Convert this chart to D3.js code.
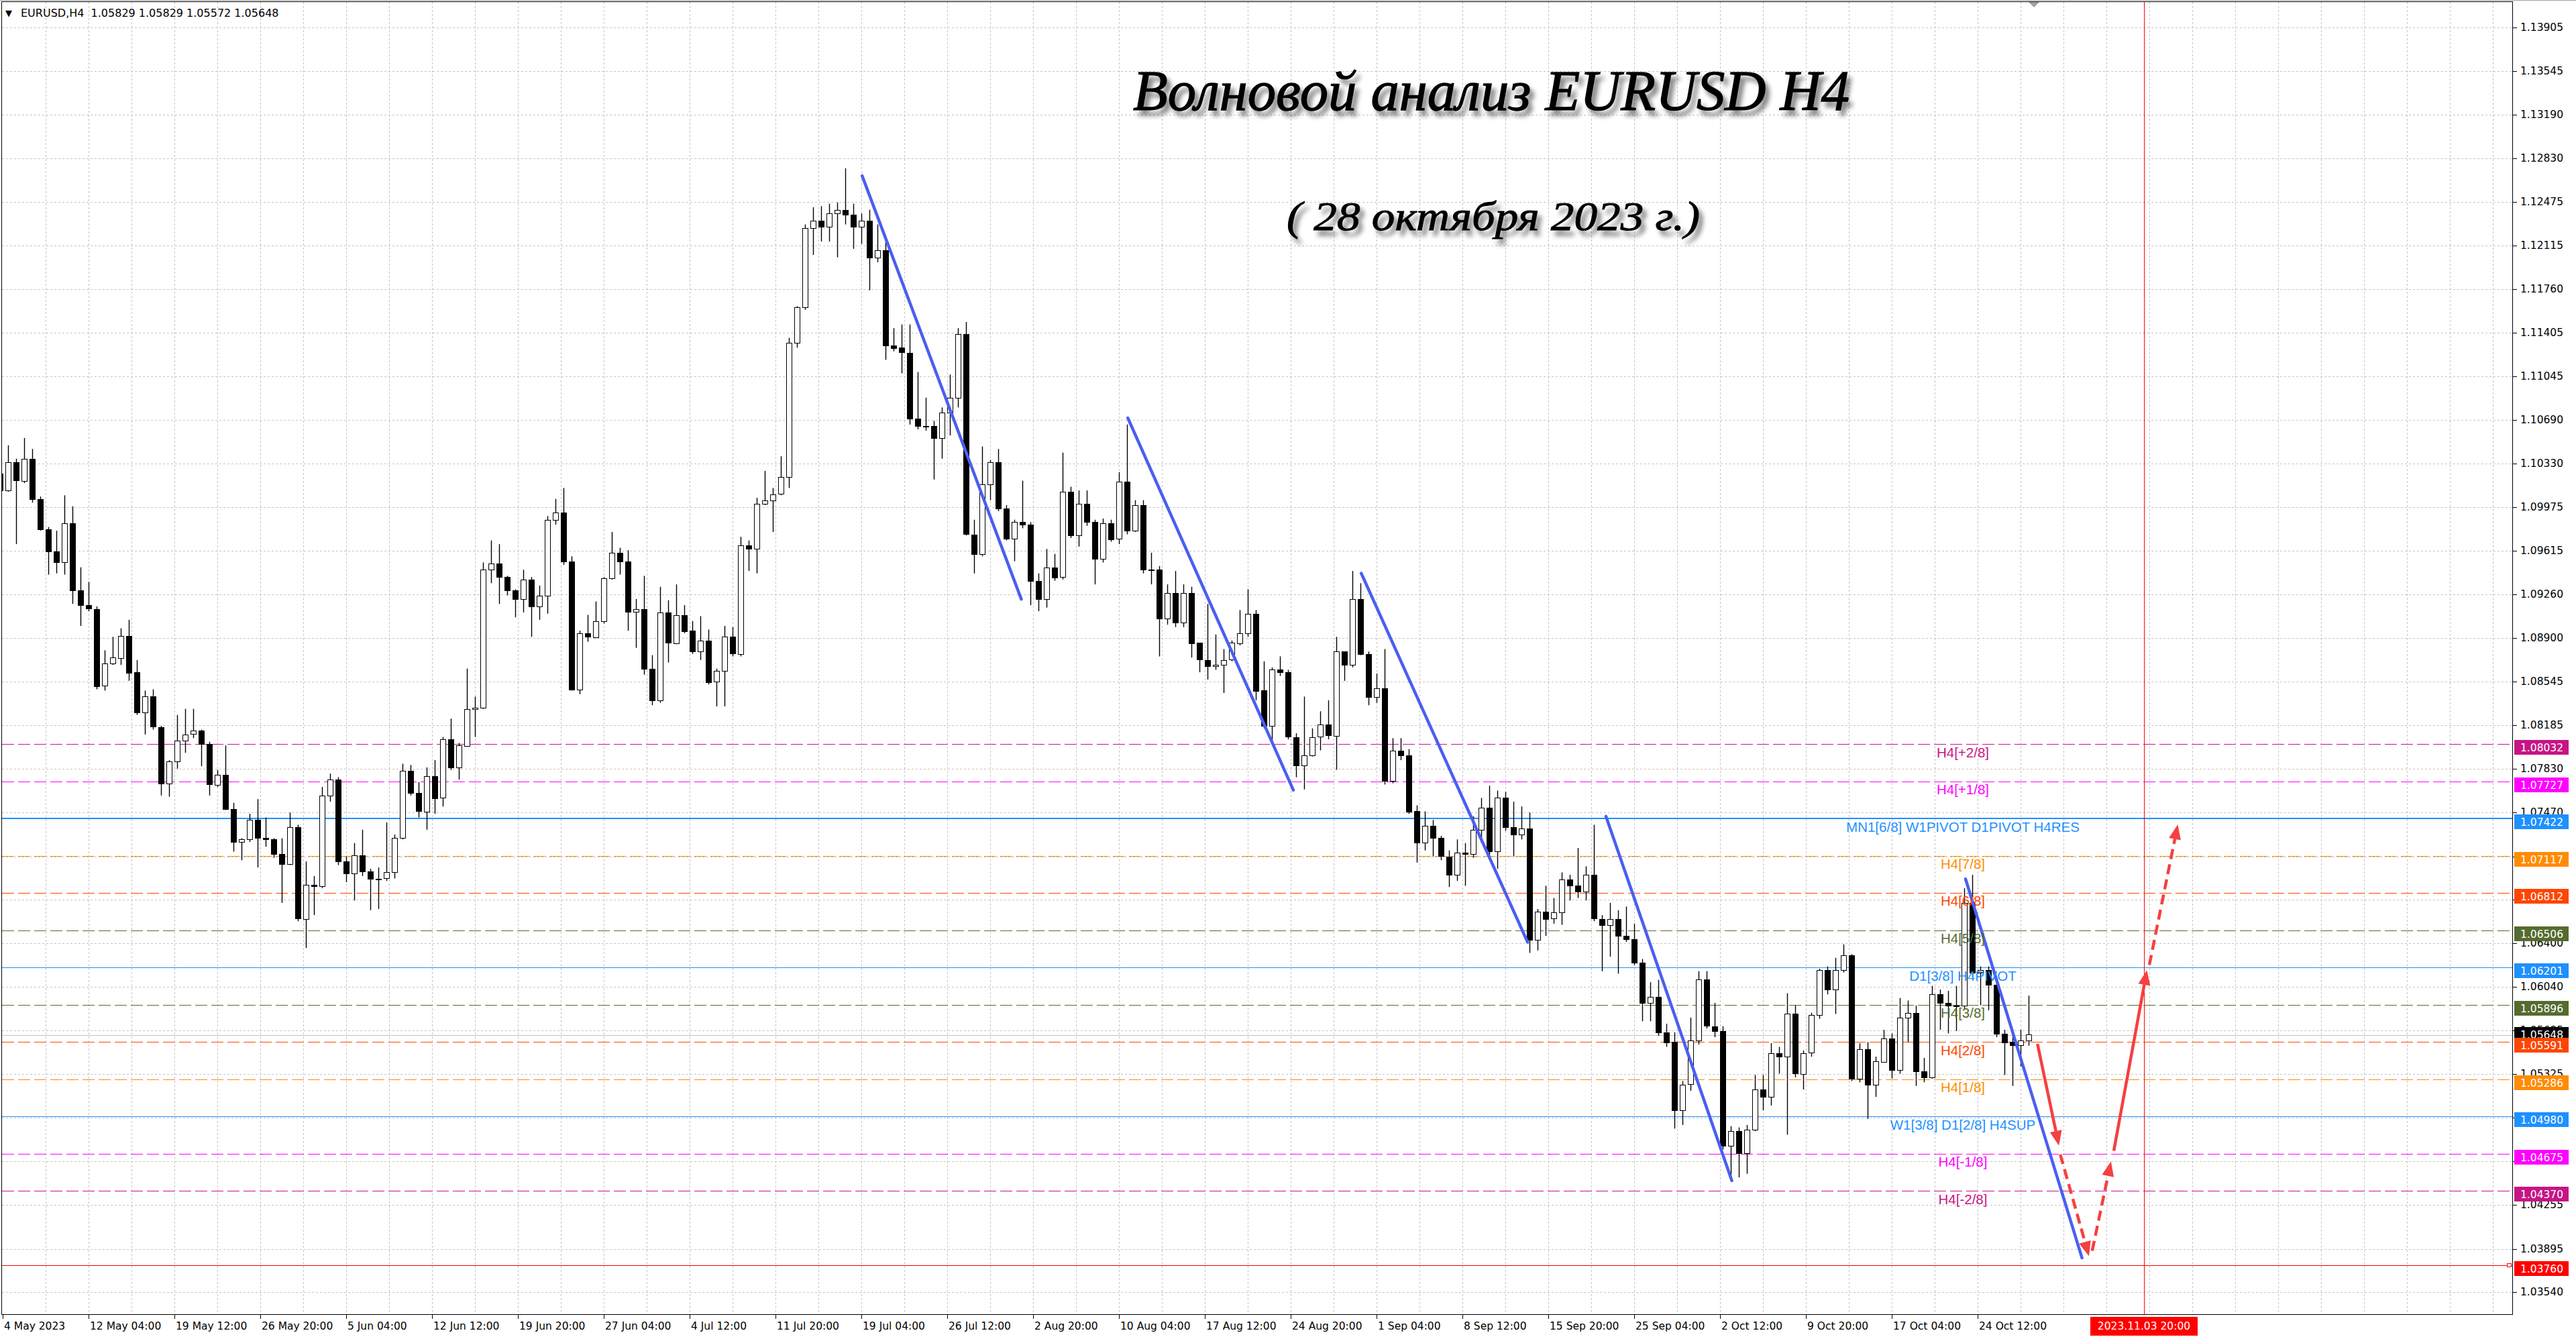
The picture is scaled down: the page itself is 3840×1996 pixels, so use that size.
<!DOCTYPE html>
<html><head><meta charset="utf-8">
<script src="https://d3js.org/d3.v7.min.js"></script>
<style>html,body{margin:0;padding:0;background:#fff;}svg{display:block;}</style>
</head><body>
<svg id="chart" width="3840" height="1996"></svg>
<script>
// ===== DATA (EURUSD, 12-hour candles, 4 May 2023 20:00 -> 27 Oct 2023 20:00) =====
const candleOpen = [
1.1025,1.1011,1.1034,1.1019,1.1037,1.1004,1.0979,1.0961,1.0952,1.0984,
1.0929,1.0917,1.0914,1.0851,1.0869,1.0874,1.0892,1.0862,1.0829,1.0842,
1.0817,1.0771,1.0789,1.0806,1.0811,1.0814,1.0803,1.0770,1.0778,1.0750,
1.0723,1.0725,1.0741,1.0726,1.0725,1.0713,1.0705,1.0735,1.0660,1.0688,
1.0687,1.0761,1.0774,1.0707,1.0697,1.0712,1.0699,1.0693,1.0693,1.0698,
1.0726,1.0781,1.0763,1.0748,1.0777,1.0759,1.0807,1.0784,1.0802,1.0832,
1.0833,1.0946,1.0951,1.0940,1.0929,1.0922,1.0938,1.0916,1.0925,1.0987,
1.0993,1.0953,1.0848,1.0894,1.0891,1.0904,1.0939,1.0960,1.0953,1.0912,
1.0914,1.0865,1.0839,1.0911,1.0886,1.0909,1.0896,1.0879,1.0888,1.0854,
1.0863,1.0891,1.0877,1.0966,1.0963,1.1000,1.1003,1.1008,1.1022,1.1132,
1.1161,1.1226,1.1232,1.1227,1.1238,1.1241,1.1237,1.1227,1.1232,1.1202,
1.1208,1.1130,1.1128,1.1124,1.1070,1.1064,1.1064,1.1054,1.1075,1.1087,
1.1139,1.0975,1.0959,1.1016,1.1034,1.0996,1.0971,1.0985,1.0983,1.0937,
1.0922,1.0948,1.0940,1.1010,1.0974,1.1000,1.0985,1.0955,1.0984,1.0971,
1.1018,1.0978,1.0999,1.0946,1.0946,1.0906,1.0927,1.0903,1.0927,1.0886,
1.0872,1.0867,1.0868,1.0872,1.0886,1.0894,1.0910,1.0847,1.0818,1.0864,
1.0862,1.0809,1.0786,1.0794,1.0809,1.0819,1.0810,1.0879,1.0868,1.0922,
1.0877,1.0842,1.0849,1.0773,1.0798,1.0794,1.0748,1.0722,1.0736,1.0726,
1.0711,1.0696,1.0714,1.0713,1.0733,1.0751,1.0715,1.0759,1.0735,1.0729,
1.0734,1.0643,1.0666,1.0660,1.0665,1.0692,1.0687,1.0682,1.0696,1.0660,
1.0655,1.0660,1.0646,1.0643,1.0624,1.0591,1.0596,1.0567,1.0559,1.0503,
1.0524,1.0560,1.0610,1.0572,1.0568,1.0474,1.0486,1.0468,1.0487,1.0520,
1.0514,1.0550,1.0547,1.0582,1.0533,1.0550,1.0581,1.0618,1.0602,1.0618,
1.0630,1.0529,1.0553,1.0524,1.0543,1.0562,1.0536,1.0579,1.0583,1.0535,
1.0530,1.0598,1.0591,1.0589,1.0589,1.0673,1.0616,1.0618,1.0606,1.0566,
1.0559,1.0556,1.0560];
const candleHigh = [
1.1032,1.1048,1.1037,1.1054,1.1045,1.1006,1.0981,1.0978,1.1007,1.0998,
1.0948,1.0936,1.0916,1.0880,1.0891,1.0898,1.0905,1.0872,1.0847,1.0848,
1.0818,1.0790,1.0827,1.0832,1.0832,1.0815,1.0805,1.0782,1.0802,1.0755,
1.0726,1.0746,1.0758,1.0743,1.0726,1.0726,1.0747,1.0737,1.0707,1.0695,
1.0768,1.0779,1.0776,1.0711,1.0722,1.0733,1.0701,1.0702,1.0739,1.0729,
1.0787,1.0786,1.0772,1.0784,1.0790,1.0809,1.0824,1.0804,1.0865,1.0842,
1.0952,1.0970,1.0967,1.0941,1.0930,1.0946,1.0940,1.0933,1.0990,1.1004,
1.1013,1.0957,1.0896,1.0909,1.0920,1.0940,1.0977,1.0964,1.0962,1.0922,
1.0941,1.0876,1.0932,1.0921,1.0934,1.0917,1.0904,1.0908,1.0897,1.0865,
1.0900,1.0899,1.0973,1.0970,1.1005,1.1027,1.1013,1.1039,1.1136,1.1162,
1.1229,1.1243,1.1244,1.1246,1.1247,1.1275,1.1246,1.1238,1.1241,1.1229,
1.1218,1.1144,1.1147,1.1147,1.1108,1.1087,1.1068,1.1079,1.1106,1.1144,
1.1149,1.0987,1.1047,1.1036,1.1045,1.0999,1.0987,1.1019,1.0985,1.0943,
1.0963,1.0959,1.1042,1.1014,1.1011,1.1011,1.0987,1.0988,1.0987,1.1026,
1.1065,1.1003,1.1003,1.0960,1.0949,1.0934,1.0945,1.0934,1.0932,1.0886,
1.0918,1.0893,1.0881,1.0888,1.0913,1.0930,1.0913,1.0871,1.0866,1.0875,
1.0864,1.0812,1.0842,1.0816,1.0830,1.0839,1.0891,1.0879,1.0945,1.0935,
1.0879,1.0861,1.0881,1.0808,1.0808,1.0799,1.0753,1.0748,1.0741,1.0728,
1.0716,1.0725,1.0722,1.0744,1.0759,1.0769,1.0765,1.0764,1.0756,1.0752,
1.0747,1.0668,1.0687,1.0677,1.0698,1.0696,1.0718,1.0703,1.0737,1.0663,
1.0673,1.0667,1.0670,1.0656,1.0627,1.0608,1.0610,1.0574,1.0567,1.0527,
1.0579,1.0617,1.0617,1.0591,1.0572,1.0490,1.0489,1.0491,1.0532,1.0532,
1.0558,1.0555,1.0599,1.0589,1.0552,1.0583,1.0619,1.0621,1.0628,1.0639,
1.0631,1.0558,1.0559,1.0547,1.0569,1.0566,1.0595,1.0593,1.0589,1.0546,
1.0605,1.0602,1.0601,1.0605,1.0685,1.0696,1.0621,1.0621,1.0608,1.0569,
1.0569,1.0569,1.0597];
const candleLow = [
1.1010,1.1010,1.0967,1.1017,1.1001,1.0978,1.0942,1.0943,1.0942,1.0918,
1.0900,1.0912,1.0848,1.0847,1.0868,1.0868,1.0855,1.0827,1.0811,1.0815,
1.0761,1.0760,1.0783,1.0796,1.0808,1.0785,1.0761,1.0768,1.0749,1.0715,
1.0708,1.0723,1.0702,1.0719,1.0710,1.0673,1.0704,1.0658,1.0636,1.0663,
1.0685,1.0756,1.0704,1.0690,1.0675,1.0695,1.0667,1.0668,1.0691,1.0693,
1.0725,1.0761,1.0743,1.0733,1.0746,1.0752,1.0782,1.0774,1.0801,1.0809,
1.0832,1.0935,1.0918,1.0925,1.0907,1.0911,1.0891,1.0905,1.0910,1.0983,
1.0950,1.0847,1.0844,1.0887,1.0890,1.0902,1.0938,1.0942,1.0896,1.0882,
1.0860,1.0835,1.0837,1.0870,1.0885,1.0894,1.0877,1.0872,1.0852,1.0834,
1.0834,1.0875,1.0875,1.0945,1.0943,1.0999,1.0977,1.1007,1.1013,1.1128,
1.1159,1.1204,1.1215,1.1215,1.1202,1.1229,1.1209,1.1213,1.1175,1.1198,
1.1118,1.1125,1.1107,1.1065,1.1061,1.1060,1.1020,1.1037,1.1056,1.1079,
1.0974,1.0943,1.0957,1.1003,1.0994,1.0970,1.0953,1.0980,1.0917,1.0912,
1.0915,1.0937,1.0938,1.0972,1.0965,1.0982,1.0934,1.0952,1.0969,1.0967,
1.0975,1.0977,1.0943,1.0934,1.0875,1.0901,1.0899,1.0899,1.0874,1.0862,
1.0856,1.0864,1.0845,1.0871,1.0884,1.0891,1.0839,1.0816,1.0804,1.0859,
1.0807,1.0776,1.0766,1.0793,1.0798,1.0807,1.0782,1.0855,1.0866,1.0876,
1.0835,1.0837,1.0770,1.0771,1.0790,1.0746,1.0706,1.0716,1.0711,1.0708,
1.0686,1.0691,1.0687,1.0710,1.0722,1.0711,1.0701,1.0732,1.0711,1.0725,
1.0632,1.0634,1.0646,1.0656,1.0655,1.0675,1.0677,1.0675,1.0658,1.0617,
1.0629,1.0615,1.0641,1.0622,1.0576,1.0576,1.0564,1.0555,1.0488,1.0491,
1.0519,1.0557,1.0570,1.0563,1.0471,1.0448,1.0448,1.0451,1.0486,1.0503,
1.0507,1.0533,1.0483,1.0530,1.0520,1.0547,1.0578,1.0598,1.0582,1.0616,
1.0527,1.0526,1.0496,1.0514,1.0542,1.0529,1.0533,1.0559,1.0523,1.0526,
1.0529,1.0569,1.0566,1.0568,1.0586,1.0612,1.0589,1.0585,1.0563,1.0532,
1.0523,1.0539,1.0556];
const candleClose = [
1.1011,1.1034,1.1019,1.1037,1.1004,1.0979,1.0961,1.0952,1.0984,1.0929,
1.0917,1.0914,1.0851,1.0869,1.0874,1.0892,1.0862,1.0829,1.0842,1.0817,
1.0771,1.0789,1.0806,1.0811,1.0814,1.0803,1.0770,1.0778,1.0750,1.0723,
1.0725,1.0741,1.0726,1.0725,1.0713,1.0705,1.0735,1.0660,1.0688,1.0687,
1.0761,1.0774,1.0707,1.0697,1.0712,1.0699,1.0693,1.0693,1.0698,1.0726,
1.0781,1.0763,1.0748,1.0777,1.0759,1.0807,1.0784,1.0802,1.0832,1.0833,
1.0946,1.0951,1.0940,1.0929,1.0922,1.0938,1.0916,1.0925,1.0987,1.0993,
1.0953,1.0848,1.0894,1.0891,1.0904,1.0939,1.0960,1.0953,1.0912,1.0914,
1.0865,1.0839,1.0911,1.0886,1.0909,1.0896,1.0879,1.0888,1.0854,1.0863,
1.0891,1.0877,1.0966,1.0963,1.1000,1.1003,1.1008,1.1022,1.1132,1.1161,
1.1226,1.1232,1.1227,1.1238,1.1241,1.1237,1.1227,1.1232,1.1202,1.1208,
1.1130,1.1128,1.1124,1.1070,1.1064,1.1064,1.1054,1.1075,1.1087,1.1139,
1.0975,1.0959,1.1016,1.1034,1.0996,1.0971,1.0985,1.0983,1.0937,1.0922,
1.0948,1.0940,1.1010,1.0974,1.1000,1.0985,1.0955,1.0984,1.0971,1.1018,
1.0978,1.0999,1.0946,1.0946,1.0906,1.0927,1.0903,1.0927,1.0886,1.0872,
1.0867,1.0868,1.0872,1.0886,1.0894,1.0910,1.0847,1.0818,1.0864,1.0862,
1.0809,1.0786,1.0794,1.0809,1.0819,1.0810,1.0879,1.0868,1.0922,1.0877,
1.0842,1.0849,1.0773,1.0798,1.0794,1.0748,1.0722,1.0736,1.0726,1.0711,
1.0696,1.0714,1.0713,1.0733,1.0751,1.0715,1.0759,1.0735,1.0729,1.0734,
1.0643,1.0666,1.0660,1.0665,1.0692,1.0687,1.0682,1.0696,1.0660,1.0655,
1.0660,1.0646,1.0643,1.0624,1.0591,1.0596,1.0567,1.0559,1.0503,1.0524,
1.0560,1.0610,1.0572,1.0568,1.0474,1.0486,1.0468,1.0487,1.0520,1.0514,
1.0550,1.0547,1.0582,1.0533,1.0550,1.0581,1.0618,1.0602,1.0618,1.0630,
1.0529,1.0553,1.0524,1.0543,1.0562,1.0536,1.0579,1.0583,1.0535,1.0530,
1.0598,1.0591,1.0589,1.0589,1.0673,1.0616,1.0618,1.0606,1.0566,1.0559,
1.0556,1.0560,1.0565];

// price-scale tick labels and time-scale tick labels (one every 32 H4 bars)
const priceTicks = [1.13905,1.13545,1.13190,1.12830,1.12475,1.12115,1.11760,1.11405,1.11045,1.10690,
  1.10330,1.09975,1.09615,1.09260,1.08900,1.08545,1.08185,1.07830,1.07470,1.07110,1.06755,1.06400,
  1.06040,1.05685,1.05325,1.04970,1.04615,1.04255,1.03895,1.03540];
const timeLabels = ["4 May 2023","12 May 04:00","19 May 12:00","26 May 20:00","5 Jun 04:00","12 Jun 12:00",
  "19 Jun 20:00","27 Jun 04:00","4 Jul 12:00","11 Jul 20:00","19 Jul 04:00","26 Jul 12:00","2 Aug 20:00",
  "10 Aug 04:00","17 Aug 12:00","24 Aug 20:00","1 Sep 04:00","8 Sep 12:00","15 Sep 20:00","25 Sep 04:00",
  "2 Oct 12:00","9 Oct 20:00","17 Oct 04:00","24 Oct 12:00"];

// Murrey / pivot levels
const levelPrices = [1.08032,1.07727,1.07422,1.07117,1.06812,1.06506,1.06201,1.05896,1.05591,1.05286,1.04980,1.04675,1.04370];
const levelNames = ["H4[+2/8]","H4[+1/8]","MN1[6/8] W1PIVOT D1PIVOT H4RES","H4[7/8]","H4[6/8]","H4[5/8]",
  "D1[3/8] H4PIVOT","H4[3/8]","H4[2/8]","H4[1/8]","W1[3/8] D1[2/8] H4SUP","H4[-1/8]","H4[-2/8]"];
const targetPrice = 1.03760;
const bidPrice = 1.05648;
const headerText = "EURUSD,H4  1.05829 1.05829 1.05572 1.05648";
const vlineBar = 798, vlineLabel = "2023.11.03 20:00";

// wave lines and forecast arrows: [barIndex1, price1, barIndex2, price2]
const waveLines = [
  [320.3,1.12688,379.6,1.09219],
  [419.3,1.10704,481.0,1.07654],
  [506.3,1.09431,568.3,1.06408],
  [597.5,1.07439,644.4,1.04454],
  [731.5,1.06926,774.9,1.03821]];
const forecastSolid = [[758.3,1.05575,766.3,1.04741],[786.75,1.04698,799.1,1.06179]];
const forecastDashed = [[766.8,1.04669,777.5,1.03835],[778.7,1.03879,785.7,1.04611],[800.0,1.06222,810.6,1.07372]];
const titleText = "Волновой анализ EURUSD H4";
const subtitleText = "( 28 октября  2023 г.)";

// ===== STYLES =====
const levelColors = ["#C71585","#FF00FF","#1E90FF","#FF8C00","#FF4500","#556B2F","#1E90FF","#556B2F","#FF4500","#FF8C00","#1E90FF","#FF00FF","#C71585"];
const levelSolid = [false,false,true,false,false,false,true,false,false,false,true,false,false];
const levelWidth = [1,1,2,1,1,1,1,1,1,1,1,1,1];

// ===== LAYOUT =====
const W = 3840, H = 1996;
const plot = {left:3, top:3, right:3746, bottom:1960};
const x = d3.scaleLinear().domain([-1, 935.5]).range([0, plot.right]);      // H4 bar index -> px
const y = d3.scaleLinear().domain([1.03354, 1.14129]).range([plot.bottom, 0]); // price -> px
const crisp = v => Math.round(v) + 0.5;
const axisFont = "'DejaVu Sans', Verdana, sans-serif";
const tagShift = 5;   // level price tags sit slightly below their price

const svg = d3.select('#chart');
const defs = svg.append('defs');
defs.append('clipPath').attr('id','plotClip').append('rect')
  .attr('x',plot.left).attr('y',plot.top).attr('width',plot.right-plot.left).attr('height',plot.bottom-plot.top);
const f = defs.append('filter').attr('id','shadow').attr('x','-5%').attr('y','-40%').attr('width','115%').attr('height','200%');
f.append('feGaussianBlur').attr('in','SourceAlpha').attr('stdDeviation',3.5).attr('result','b');
f.append('feOffset').attr('in','b').attr('dx',6).attr('dy',8).attr('result','o');
f.append('feComponentTransfer').attr('in','o').attr('result','s').append('feFuncA').attr('type','linear').attr('slope',0.5);
const fm = f.append('feMerge'); fm.append('feMergeNode').attr('in','s'); fm.append('feMergeNode').attr('in','SourceGraphic');

svg.append('rect').attr('width',W).attr('height',H).attr('fill','#ffffff');

const g = svg.append('g').attr('clip-path','url(#plotClip)');

// grid
g.append('g').selectAll('line').data(priceTicks).join('line')
  .attr('x1',plot.left).attr('x2',plot.right)
  .attr('y1',d=>crisp(y(d))).attr('y2',d=>crisp(y(d)))
  .attr('stroke','#c4c4c4').attr('stroke-width',1).attr('stroke-dasharray','3,3');
const vBars = d3.range(16, 936, 16);
g.append('g').selectAll('line').data(vBars).join('line')
  .attr('x1',d=>crisp(x(d))).attr('x2',d=>crisp(x(d)))
  .attr('y1',plot.top).attr('y2',plot.bottom)
  .attr('stroke','#c4c4c4').attr('stroke-width',1).attr('stroke-dasharray','3,3');

// level lines
g.append('g').selectAll('line').data(levelPrices).join('line')
  .attr('x1',plot.left).attr('x2',plot.right)
  .attr('y1',(d,i)=>levelWidth[i]===2?Math.round(y(d)):crisp(y(d)))
  .attr('y2',(d,i)=>levelWidth[i]===2?Math.round(y(d)):crisp(y(d)))
  .attr('stroke',(d,i)=>levelColors[i]).attr('stroke-width',(d,i)=>levelWidth[i])
  .attr('stroke-dasharray',(d,i)=>levelSolid[i]?null:'18,6');
g.append('line').attr('x1',plot.left).attr('x2',plot.right)
  .attr('y1',crisp(y(bidPrice))).attr('y2',crisp(y(bidPrice))).attr('stroke','#c0c0c0');
g.append('line').attr('x1',plot.left).attr('x2',plot.right)
  .attr('y1',crisp(y(targetPrice))).attr('y2',crisp(y(targetPrice))).attr('stroke','#ff0000');
g.append('rect').attr('x',plot.right-8.5).attr('y',Math.round(y(targetPrice))-2.5).attr('width',6).attr('height',5)
  .attr('fill','#fff').attr('stroke','#ff0000');

// vertical time marker
g.append('line').attr('x1',crisp(x(vlineBar))).attr('x2',crisp(x(vlineBar)))
  .attr('y1',plot.top).attr('y2',plot.bottom).attr('stroke','#ff0000');

// candles (each 12h candle spans 3 H4 bars; centred on its middle bar)
const candles = candleClose.map((c,k)=>({k, o:candleOpen[k], h:candleHigh[k], l:candleLow[k], c, bar:3*k-1}));
const cg = g.append('g');
cg.selectAll('line').data(candles).join('line')
  .attr('x1',d=>crisp(x(d.bar))).attr('x2',d=>crisp(x(d.bar)))
  .attr('y1',d=>y(Math.max(d.h,d.o,d.c))).attr('y2',d=>y(Math.min(d.l,d.o,d.c)))
  .attr('stroke','#000').attr('stroke-width',1.4);
cg.selectAll('rect').data(candles).join('rect')
  .attr('x',d=>Math.round(x(d.bar))-3.5).attr('width',8)
  .attr('y',d=>Math.round(y(Math.max(d.o,d.c)))+0.5)
  .attr('height',d=>Math.max(1,Math.round(Math.abs(y(d.o)-y(d.c)))))
  .attr('fill',d=>d.c>=d.o?'#ffffff':'#000000').attr('stroke','#000').attr('stroke-width',1);

// wave lines
g.append('g').selectAll('line').data(waveLines).join('line')
  .attr('x1',d=>x(d[0])).attr('y1',d=>y(d[1])).attr('x2',d=>x(d[2])).attr('y2',d=>y(d[3]))
  .attr('stroke','#4a5ff0').attr('stroke-width',4.5).attr('stroke-linecap','round');

// forecast arrows
function arrow(seg, dashed){
  const x1=x(seg[0]), y1=y(seg[1]), x2=x(seg[2]), y2=y(seg[3]);
  const dx=x2-x1, dy=y2-y1, len=Math.hypot(dx,dy), ux=dx/len, uy=dy/len;
  const hl=22, hw=9, bx=x2-ux*hl, by=y2-uy*hl;
  g.append('line').attr('x1',x1).attr('y1',y1).attr('x2',bx).attr('y2',by)
    .attr('stroke','#f54040').attr('stroke-width',4.5)
    .attr('stroke-dasharray',dashed?'15,8':null);
  g.append('polygon').attr('points',[[x2,y2],[bx-uy*hw,by+ux*hw],[bx+uy*hw,by-ux*hw]].map(p=>p.join(',')).join(' '))
    .attr('fill','#f54040');
}
forecastSolid.forEach(s=>arrow(s,false));
forecastDashed.forEach(s=>arrow(s,true));

// level labels in chart
svg.append('g').selectAll('text').data(levelPrices).join('text')
  .attr('x',x(730.5)).attr('y',d=>y(d)+12)
  .attr('text-anchor','middle').attr('dominant-baseline','central')
  .attr('font-family',"'Liberation Sans', Arial, sans-serif").attr('font-size',20.5)
  .attr('fill',(d,i)=>levelColors[i]).text((d,i)=>levelNames[i]);

// title
svg.append('text').attr('x',2223).attr('y',164).attr('text-anchor','middle')
  .attr('font-family',"'Liberation Serif', 'DejaVu Serif', serif").attr('font-style','italic')
  .attr('font-size',84).attr('fill','#000').attr('stroke','#000').attr('stroke-width',1.3)
  .attr('filter','url(#shadow)')
  .attr('textLength',1068).attr('lengthAdjust','spacingAndGlyphs').text(titleText);
svg.append('text').attr('x',2226).attr('y',343).attr('text-anchor','middle')
  .attr('font-family',"'Liberation Serif', 'DejaVu Serif', serif").attr('font-style','italic')
  .attr('font-size',62).attr('fill','#000').attr('stroke','#000').attr('stroke-width',1)
  .attr('filter','url(#shadow)')
  .attr('textLength',616).attr('lengthAdjust','spacingAndGlyphs').text(subtitleText);

// frame
svg.append('rect').attr('x',plot.left-0.5).attr('y',plot.top-0.5)
  .attr('width',plot.right-plot.left).attr('height',plot.bottom-plot.top)
  .attr('fill','none').attr('stroke','#000').attr('stroke-width',1);
svg.append('line').attr('x1',0).attr('x2',W).attr('y1',0.5).attr('y2',0.5).attr('stroke','#a0a0a0');

// chart shift marker
svg.append('polygon').attr('points',`${x(757)-8},3 ${x(757)+8},3 ${x(757)},11`).attr('fill','#a0a0a0');

// right price axis (labels that a price tag covers entirely are not drawn, as in the original)
const tagCentres = levelPrices.concat([targetPrice]).map(p=>y(p)+tagShift);
const visibleTicks = priceTicks.filter(p=>tagCentres.every(c=>Math.abs(y(p)-c)>7));
const ra = svg.append('g');
ra.selectAll('line').data(priceTicks).join('line')
  .attr('x1',plot.right).attr('x2',plot.right+6)
  .attr('y1',d=>crisp(y(d))).attr('y2',d=>crisp(y(d))).attr('stroke','#000');
ra.selectAll('text').data(visibleTicks).join('text')
  .attr('x',plot.right+11).attr('y',d=>y(d)).attr('dominant-baseline','central')
  .attr('font-family',axisFont).attr('font-size',15.5).attr('fill','#000')
  .text(d=>d.toFixed(5));

// coloured price tags (bid tag drawn first, level tags over it)
const tags = [{p:bidPrice,c:'#000000',s:-1}]
  .concat(levelPrices.map((p,i)=>({p, c:levelColors[i], s:tagShift})))
  .concat([{p:targetPrice,c:'#ff0000',s:tagShift}]);
const tg = svg.append('g');
tags.forEach(d=>{
  const cy = y(d.p)+d.s;
  tg.append('rect').attr('x',plot.right+2).attr('y',Math.round(cy)-11).attr('width',81).attr('height',22)
    .attr('fill',d.c);
  tg.append('text').attr('x',plot.right+11).attr('y',cy+1).attr('dominant-baseline','central')
    .attr('font-family',axisFont).attr('font-size',15.5).attr('fill','#fff')
    .text(d.p.toFixed(5));
});

// bottom time axis
const ba = svg.append('g');
ba.selectAll('line').data(timeLabels).join('line')
  .attr('x1',(d,i)=>crisp(x(i*32))).attr('x2',(d,i)=>crisp(x(i*32)))
  .attr('y1',plot.bottom).attr('y2',plot.bottom+6).attr('stroke','#000');
ba.selectAll('text').data(timeLabels).join('text')
  .attr('x',(d,i)=>x(i*32)+2).attr('y',1977).attr('dominant-baseline','central')
  .attr('font-family',axisFont).attr('font-size',15.5).attr('fill','#000').text(d=>d);
ba.append('rect').attr('x',x(vlineBar)-80).attr('y',1963).attr('width',160).attr('height',28).attr('fill','#ff0000');
ba.append('text').attr('x',x(vlineBar)).attr('y',1977).attr('text-anchor','middle').attr('dominant-baseline','central')
  .attr('font-family',axisFont).attr('font-size',15.5).attr('fill','#fff').text(vlineLabel);

// header
svg.append('text').attr('x',8).attr('y',19).attr('dominant-baseline','central')
  .attr('font-family',axisFont).attr('font-size',13).attr('fill','#000').text('▼');
svg.append('text').attr('x',31).attr('y',19).attr('dominant-baseline','central')
  .attr('font-family',axisFont).attr('font-size',16).attr('fill','#000').attr('xml:space','preserve')
  .style('white-space','pre').text(headerText);
</script>
</body></html>
